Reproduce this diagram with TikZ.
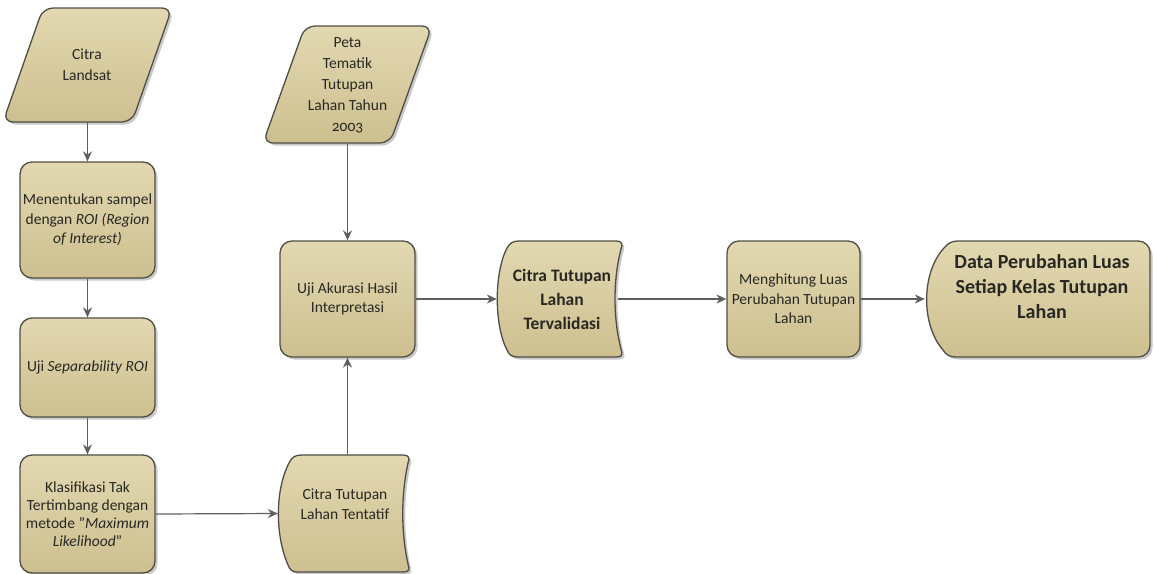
\documentclass[tikz,border=0pt]{standalone}
\usepackage{fontspec}
\setmainfont{Carlito}
\usetikzlibrary{shadows,arrows.meta}
\definecolor{tanTop}{RGB}{226,216,177}
\definecolor{tanBot}{RGB}{205,191,143}
\definecolor{edgeC}{RGB}{78,78,68}
\definecolor{connC}{RGB}{95,95,95}
\definecolor{txtC}{RGB}{40,40,35}
\begin{document}
\begin{tikzpicture}[x=1pt,y=-1pt,
  shapestyle/.style={draw=edgeC, line width=1.3pt, top color=tanTop, bottom color=tanBot,
     drop shadow={shadow xshift=2.5pt,shadow yshift=-2.5pt,opacity=0.35,fill=black!60}},
  boxstyle/.style={shapestyle, rectangle, rounded corners=12pt, minimum width=135pt,
     minimum height=116pt, align=center, text=txtC, font=\fontsize{15.5}{19.5}\selectfont, inner sep=2pt},
  lbl/.style={align=center, text=txtC, font=\fontsize{15.5}{19.5}\selectfont, inner sep=0pt},
  conn/.style={draw=connC, line width=1.2pt, -{Stealth[length=10pt,width=9pt]}},
  plainline/.style={draw=connC, line width=1.2pt}]
\useasboundingbox (0,0) rectangle (1155,573);

% ---- shapes drawn directly ----
% Citra Landsat (parallelogram)
\path[shapestyle, rounded corners=10pt] (43,8) -- (172,8) -- (132,122) -- (3,122) -- cycle;
% Peta Tematik (parallelogram)
\path[shapestyle, rounded corners=10pt] (305,26) -- (432,26) -- (390,143) -- (263,143) -- cycle;
% Citra Tutupan Lahan Tentatif (stored data)
\path[shapestyle] (302,455) -- (403,455) .. controls (409,455) and (410,458) .. (408,463)
   .. controls (401,495) and (401,532) .. (408,564)
   .. controls (410,570) and (409,572) .. (403,572) -- (298,572)
   .. controls (292,572) and (290,570) .. (288,565)
   .. controls (275,535) and (275,490) .. (289,463)
   .. controls (292,457) and (295,455) .. (302,455) -- cycle;
% Citra Tutupan Lahan Tervalidasi (stored data)
\path[shapestyle] (519,241) -- (616,241) .. controls (622,241) and (623,244) .. (621,249)
   .. controls (613,280) and (613,318) .. (621,349)
   .. controls (623,355) and (622,357) .. (616,357) -- (518,357)
   .. controls (512,357) and (509,355) .. (507,350)
   .. controls (494,325) and (494,273) .. (507,248)
   .. controls (510,243) and (513,241) .. (519,241) -- cycle;
% Data Perubahan Luas (display)
\path[shapestyle] (958,241) -- (1138,241) .. controls (1145,241) and (1150,246) .. (1150,253)
   -- (1150,345) .. controls (1150,352) and (1145,357) .. (1138,357) -- (956,357)
   .. controls (950,357) and (946,355) .. (943,350)
   .. controls (921,325) and (921,273) .. (944,248)
   .. controls (948,243) and (952,241) .. (958,241) -- cycle;

% ---- nodes ----
\node[lbl, minimum width=169pt, minimum height=114pt, font=\fontsize{15.5}{21}\selectfont] (landsat) at (87,65) {Citra\\Landsat};
\node[boxstyle] (roi) at (87.5,220) {Menentukan sampel\\dengan \textit{ROI (Region}\\\textit{of Interest)}};
\node[boxstyle, minimum height=99pt] (sep) at (87.5,367.5) {Uji \textit{Separability ROI}};
\node[boxstyle, minimum height=118pt, font=\fontsize{15.5}{18}\selectfont] (klas) at (87.5,514)
   {Klasifikasi Tak\\Tertimbang dengan\\metode "\textit{Maximum}\\\textit{Likelihood}"};
\node[lbl, minimum width=169pt, minimum height=117pt, font=\fontsize{15.5}{21}\selectfont] (peta) at (347.5,85)
   {Peta\\Tematik\\Tutupan\\Lahan Tahun\\{\addfontfeatures{Numbers=OldStyle}2003}};
\node[boxstyle] (akurasi) at (347.5,299) {Uji Akurasi Hasil\\Interpretasi};
\node[lbl, minimum width=132pt, minimum height=117pt] (tent) at (344,513.5) {};
\node[lbl] (tenttext) at (345,504) {Citra Tutupan\\Lahan Tentatif};
\node[lbl, minimum width=126pt, minimum height=116pt] (valid) at (560,299) {};
\node[lbl, font=\fontsize{17.5}{24}\selectfont\bfseries] (validtext) at (562,299) {Citra Tutupan\\Lahan\\Tervalidasi};
\node[boxstyle, minimum width=133pt] (hitung) at (793.5,299) {Menghitung Luas\\Perubahan Tutupan\\Lahan};
\node[lbl, minimum width=225pt, minimum height=116pt] (data) at (1037.5,299) {};
\node[lbl, font=\fontsize{20}{25}\selectfont\bfseries] (datatext) at (1042,287) {Data Perubahan Luas\\Setiap Kelas Tutupan\\Lahan};

% ---- connectors ----
\draw[conn] (landsat.south -| roi.north) -- (roi.north);
\draw[conn] (roi.south) -- (sep.north);
\draw[conn] (sep.south) -- (klas.north);
\draw[conn] (klas.east) -- (tent.west);
\draw[conn] (peta.south) -- (akurasi.north);
\draw[conn] (tent.north -| akurasi.south) -- (akurasi.south);
\draw[conn] (akurasi.east) -- (valid.west);
\draw[conn] ([xshift=-5pt]valid.east) -- (hitung.west);
\draw[conn] (hitung.east) -- (data.west);
\end{tikzpicture}
\end{document}
